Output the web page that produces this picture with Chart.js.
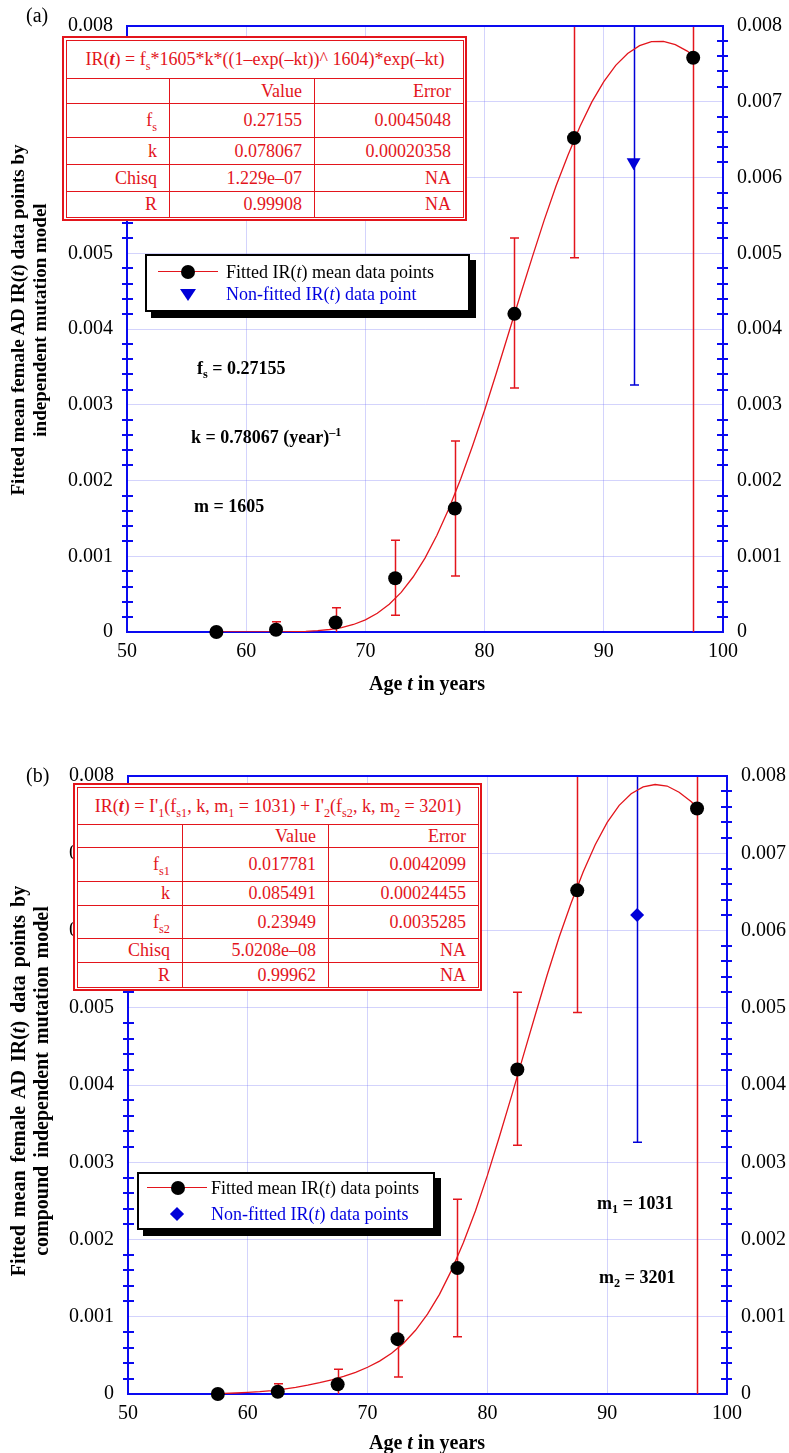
<!DOCTYPE html>
<html>
<head>
<meta charset="utf-8">
<script src="https://cdn.jsdelivr.net/npm/chart.js@4.4.1/dist/chart.umd.min.js"></script>
<style>
  body { margin: 0; background: #fff; }
  #page { position: relative; width: 789px; height: 1453px; overflow: hidden; font-family: 'Liberation Serif', 'Times New Roman', serif; }
  canvas { position: absolute; left: 0; }
  .abs { position: absolute; white-space: nowrap; }
  .ytitle { position: absolute; transform: translate(-50%, -50%) rotate(-90deg); white-space: nowrap; text-align: center; font-weight: bold; }
  .xtitle { position: absolute; transform: translate(-50%, -50%); font-weight: bold; font-size: 20px; white-space: nowrap; }
  .note { position: absolute; font-weight: bold; font-size: 18px; white-space: nowrap; transform: translateY(-50%); }
  .panel { position: absolute; font-size: 20px; transform: translateY(-50%); }
  .tbl { position: absolute; border: 2px solid #e3151c; padding: 2px; background: #fff; box-sizing: border-box; }
  .tbl table { border-collapse: collapse; table-layout: fixed; width: 100%; }
  .tbl td { border: 1px solid #e3151c; color: #e3151c; font-size: 18px; text-align: right; padding: 0 12px 0 0; white-space: nowrap; }
  .tbl td.f { text-align: center; padding: 0; }
  sub, sup { font-size: 0.68em; line-height: 0; }
  .legend { position: absolute; border: 2px solid #000; background: #fff; box-shadow: 6px 6px 0 #000; box-sizing: border-box; }
  .ltxt { position: absolute; font-size: 18px; line-height: 20px; white-space: nowrap; transform: translateY(-50%); }
</style>
</head>
<body>
<div id="page">
  <canvas id="chartA" width="789" height="700" style="top:0"></canvas>
  <canvas id="chartB" width="789" height="703" style="top:750px"></canvas>

  <!-- panel (a) -->
  <div class="panel" style="left:26px;top:15px">(a)</div>
  <div class="ytitle" style="left:29px;top:320px;font-size:19px;line-height:22px">Fitted mean female AD IR(<i>t</i>) data points by<br>independent mutation model</div>
  <div class="xtitle" style="left:427px;top:683px">Age <i>t</i> in years</div>
  <div class="tbl" style="left:62px;top:36px;width:405px;height:185px">
    <table>
      <colgroup><col style="width:103px"><col style="width:145px"><col style="width:149px"></colgroup>
      <tr style="height:38px"><td class="f" colspan="3">IR(<b><i>t</i></b>) = f<sub>s</sub>*1605*k*((1–exp(–kt))^ 1604)*exp(–kt)</td></tr>
      <tr style="height:25px"><td></td><td>Value</td><td>Error</td></tr>
      <tr style="height:34px"><td>f<sub>s</sub></td><td>0.27155</td><td>0.0045048</td></tr>
      <tr style="height:27px"><td>k</td><td>0.078067</td><td>0.00020358</td></tr>
      <tr style="height:27px"><td>Chisq</td><td>1.229e–07</td><td>NA</td></tr>
      <tr style="height:26px"><td>R</td><td>0.99908</td><td>NA</td></tr>
    </table>
  </div>
  <div class="legend" style="left:145px;top:254px;width:325px;height:58px"></div>
  <div class="abs" style="left:158px;top:271px;width:60px;height:1.4px;background:#e3151c"></div>
  <div class="abs" style="left:181px;top:265px;width:14px;height:14px;border-radius:50%;background:#000"></div>
  <div class="ltxt" style="left:226px;top:272px;color:#000">Fitted IR(<i>t</i>) mean data points</div>
  <div class="abs" style="left:180px;top:289px;width:0;height:0;border-left:8px solid transparent;border-right:8px solid transparent;border-top:12px solid #0000d8"></div>
  <div class="ltxt" style="left:226px;top:294px;color:#0000e0">Non-fitted IR(<i>t</i>) data point</div>
  <div class="note" style="left:197px;top:368px">f<sub>s</sub> = 0.27155</div>
  <div class="note" style="left:191px;top:437px">k = 0.78067 (year)<sup>–1</sup></div>
  <div class="note" style="left:194px;top:506px">m = 1605</div>

  <!-- panel (b) -->
  <div class="panel" style="left:26px;top:775px">(b)</div>
  <div class="ytitle" style="left:30px;top:1081px;font-size:20px;line-height:23px;word-spacing:3px">Fitted mean female AD IR(<i>t</i>) data points by<br>compound independent mutation model</div>
  <div class="xtitle" style="left:427px;top:1442px">Age <i>t</i> in years</div>
  <div class="tbl" style="left:73px;top:783px;width:409px;height:208px">
    <table>
      <colgroup><col style="width:105px"><col style="width:146px"><col style="width:150px"></colgroup>
      <tr style="height:37px"><td class="f" colspan="3">IR(<b><i>t</i></b>) = I'<sub>1</sub>(f<sub>s1</sub>, k, m<sub>1</sub> = 1031) + I'<sub>2</sub>(f<sub>s2</sub>, k, m<sub>2</sub> = 3201)</td></tr>
      <tr style="height:23px"><td></td><td>Value</td><td>Error</td></tr>
      <tr style="height:34px"><td>f<sub>s1</sub></td><td>0.017781</td><td>0.0042099</td></tr>
      <tr style="height:24px"><td>k</td><td>0.085491</td><td>0.00024455</td></tr>
      <tr style="height:33px"><td>f<sub>s2</sub></td><td>0.23949</td><td>0.0035285</td></tr>
      <tr style="height:24px"><td>Chisq</td><td>5.0208e–08</td><td>NA</td></tr>
      <tr style="height:25px"><td>R</td><td>0.99962</td><td>NA</td></tr>
    </table>
  </div>
  <div class="legend" style="left:137px;top:1172px;width:298px;height:58px"></div>
  <div class="abs" style="left:147px;top:1187px;width:60px;height:1.4px;background:#e3151c"></div>
  <div class="abs" style="left:171px;top:1181px;width:14px;height:14px;border-radius:50%;background:#000"></div>
  <div class="ltxt" style="left:211px;top:1188px;color:#000">Fitted mean IR(<i>t</i>) data points</div>
  <div class="abs" style="left:172px;top:1209px;width:10px;height:10px;background:#0000d8;transform:rotate(45deg)"></div>
  <div class="ltxt" style="left:211px;top:1214px;color:#0000e0">Non-fitted IR(<i>t</i>) data points</div>
  <div class="note" style="left:597px;top:1203px">m<sub>1</sub> = 1031</div>
  <div class="note" style="left:599px;top:1277px">m<sub>2</sub> = 3201</div>
</div>

<script>
// measured mean IR(t) per 5-year age group (same points in both panels)
const ages = [57.5, 62.5, 67.5, 72.5, 77.5, 82.5, 87.5, 97.5];
const meanIR = [0.0, 0.00003, 0.000125, 0.00071, 0.00163, 0.0042, 0.00652, 0.00758];
const errLow = [0.0, 0.0, 0.0, 0.00022, 0.00074, 0.00322, 0.00494, -0.002];
const errHigh = [0.0, 0.000134, 0.00032, 0.00121, 0.00252, 0.0052, 0.0095, 0.011];

// the point left out of the fit
const nonFitAges = [92.5];
const nonFitIR = [0.0062];
const nonFitLow = [0.00326];
const nonFitHigh = [0.0098];

// fitted curve (a): single independent mutation model
const curveAgesA = [57.5, 58, 59, 60, 61, 62, 63, 64, 65, 66, 67, 68, 69, 70, 71, 72, 73, 74, 75, 76, 77,
    78, 79, 80, 81, 82, 83, 84, 85, 86, 87, 88, 89, 90, 91, 92, 93, 94, 95, 96, 97, 97.5];
const curveIRA = [0, 0, 0, 0, 0, 0.000001, 0.000002, 0.000004, 0.000009, 0.000018, 0.000033, 0.000059,
    0.000099, 0.00016, 0.000247, 0.000366, 0.000523, 0.000726, 0.000976, 0.001278, 0.001628, 0.002022,
    0.002461, 0.002928, 0.003426, 0.003937, 0.004448, 0.004949, 0.005437, 0.00589, 0.006297, 0.006673,
    0.006998, 0.007265, 0.00748, 0.007637, 0.007741, 0.007795, 0.007796, 0.007753, 0.007669, 0.00761];

// fitted curve (b): compound model
const curveAgesB = curveAgesA;
const curveIRB = [0.000006, 0.000008, 0.000013, 0.000021, 0.000031, 0.000045, 0.000064, 0.000086,
    0.000114, 0.000146, 0.000183, 0.000228, 0.000281, 0.000346, 0.000426, 0.000528, 0.000657, 0.000825,
    0.001035, 0.00129, 0.0016, 0.00196, 0.00237, 0.00283, 0.00333, 0.00385, 0.00438, 0.00491, 0.00543,
    0.00592, 0.00636, 0.00676, 0.00711, 0.0074, 0.00762, 0.00777, 0.00786, 0.00789, 0.00787, 0.00779,
    0.00767, 0.0076];

const xTickValues = [50, 60, 70, 80, 90, 100];
const xTickLabels = ['50', '60', '70', '80', '90', '100'];
const yTickValues = [0, 0.001, 0.002, 0.003, 0.004, 0.005, 0.006, 0.007, 0.008];
const yTickLabels = ['0', '0.001', '0.002', '0.003', '0.004', '0.005', '0.006', '0.007', '0.008'];

const RED = '#e3151c';
const BLUE = '#0000d8';
const AXIS = '#0a0af0';
const GRID = 'rgba(110,110,245,0.3)';

Chart.defaults.font.family = "'Liberation Serif', 'Times New Roman', serif";
Chart.defaults.color = '#000';

// error bars under the marks, blue frame top edge and minor ticks
const errFrame = {
    id: 'errFrame',
    beforeDatasetsDraw(chart, args, opts) {
        const { ctx, chartArea: a, scales: { x, y } } = chart;
        ctx.save();
        ctx.beginPath();
        ctx.rect(a.left, a.top, a.right - a.left, a.bottom - a.top);
        ctx.clip();
        opts.bars.forEach(b => {
            ctx.strokeStyle = b.color;
            ctx.lineWidth = 1.5;
            b.xs.forEach((v, i) => {
                if (b.highs[i] === b.lows[i]) return;
                const px = Math.round(x.getPixelForValue(v)) + 0.5;
                const pl = y.getPixelForValue(b.lows[i]);
                const ph = y.getPixelForValue(b.highs[i]);
                ctx.beginPath();
                ctx.moveTo(px, pl);
                ctx.lineTo(px, ph);
                if (b.lows[i] > 0) { ctx.moveTo(px - 4.5, pl); ctx.lineTo(px + 4.5, pl); }
                if (b.highs[i] < y.max) { ctx.moveTo(px - 4.5, ph); ctx.lineTo(px + 4.5, ph); }
                ctx.stroke();
            });
        });
        ctx.restore();
    },
    afterDraw(chart) {
        const { ctx, chartArea: a, scales: { y } } = chart;
        ctx.save();
        ctx.strokeStyle = AXIS;
        ctx.lineWidth = 2;
        ctx.beginPath();
        ctx.moveTo(a.left - 1, a.top);
        ctx.lineTo(a.right + 1, a.top);
        for (let k = 1; k < 40; k++) {
            if (k % 5 === 0) continue;
            const py = Math.round(y.getPixelForValue(k * 0.0002));
            ctx.moveTo(a.left - 5, py);
            ctx.lineTo(a.left + 6, py);
            ctx.moveTo(a.right - 6, py);
            ctx.lineTo(a.right + 5, py);
        }
        ctx.stroke();
        ctx.restore();
    }
};

const yAxis = (pos, width, showGrid) => ({
    type: 'linear',
    position: pos,
    min: 0,
    max: 0.008,
    afterBuildTicks: s => { s.ticks = yTickValues.map(v => ({ value: v })); },
    afterFit: s => { s.width = width; },
    ticks: { callback: (v, i) => yTickLabels[i], font: { size: 20 }, color: '#000', padding: 14 },
    grid: { display: showGrid, color: GRID, lineWidth: 1, drawTicks: false },
    border: { color: AXIS, width: 2 }
});

const makePanel = (id, p) => {
    const pts = (xs, ys) => xs.map((v, i) => ({ x: v, y: ys[i] }));
    return new Chart(document.getElementById(id), {
        type: 'scatter',
        data: {
            datasets: [{
                label: 'Fitted mean IR(t) data points',
                data: pts(ages, meanIR),
                pointStyle: 'circle',
                pointRadius: 7,
                backgroundColor: '#000',
                borderWidth: 0,
                clip: false,
                order: 0
            }, {
                label: 'Non-fitted IR(t) data point',
                data: pts(nonFitAges, nonFitIR),
                pointStyle: p.nonFitStyle,
                rotation: p.nonFitRotation,
                pointRadius: p.nonFitRadius,
                backgroundColor: BLUE,
                borderWidth: 0,
                order: 0
            }, {
                type: 'line',
                label: 'fit',
                data: pts(p.curveAges, p.curveIR),
                borderColor: RED,
                borderWidth: 1.3,
                pointRadius: 0,
                tension: 0,
                fill: false,
                order: 1
            }]
        },
        options: {
            responsive: false,
            animation: false,
            devicePixelRatio: 1,
            events: [],
            layout: { padding: { top: p.padTop, left: 0, right: 0, bottom: 0 } },
            scales: {
                x: {
                    type: 'linear',
                    min: 50,
                    max: 100,
                    afterBuildTicks: s => { s.ticks = xTickValues.map(v => ({ value: v })); },
                    afterFit: s => { s.height = p.xAxisH; },
                    ticks: { callback: (v, i) => xTickLabels[i], font: { size: 20 }, color: '#000', padding: 8 },
                    grid: { color: GRID, lineWidth: 1, drawTicks: false },
                    border: { color: AXIS, width: 2 }
                },
                y: yAxis('left', p.leftW, true),
                y2: yAxis('right', p.rightW, false)
            },
            plugins: {
                legend: { display: false },
                tooltip: { enabled: false },
                errFrame: {
                    bars: [
                        { xs: ages, lows: errLow, highs: errHigh, color: RED },
                        { xs: nonFitAges, lows: nonFitLow, highs: nonFitHigh, color: BLUE }
                    ]
                }
            }
        },
        plugins: [errFrame]
    });
};

makePanel('chartA', {
    curveAges: curveAgesA, curveIR: curveIRA,
    nonFitStyle: 'triangle', nonFitRotation: 180, nonFitRadius: 8,
    padTop: 14, xAxisH: 68, leftW: 127, rightW: 66
});

makePanel('chartB', {
    curveAges: curveAgesB, curveIR: curveIRB,
    nonFitStyle: 'rectRot', nonFitRotation: 0, nonFitRadius: 7,
    padTop: 22, xAxisH: 59, leftW: 128, rightW: 62
});
</script>
</body>
</html>
